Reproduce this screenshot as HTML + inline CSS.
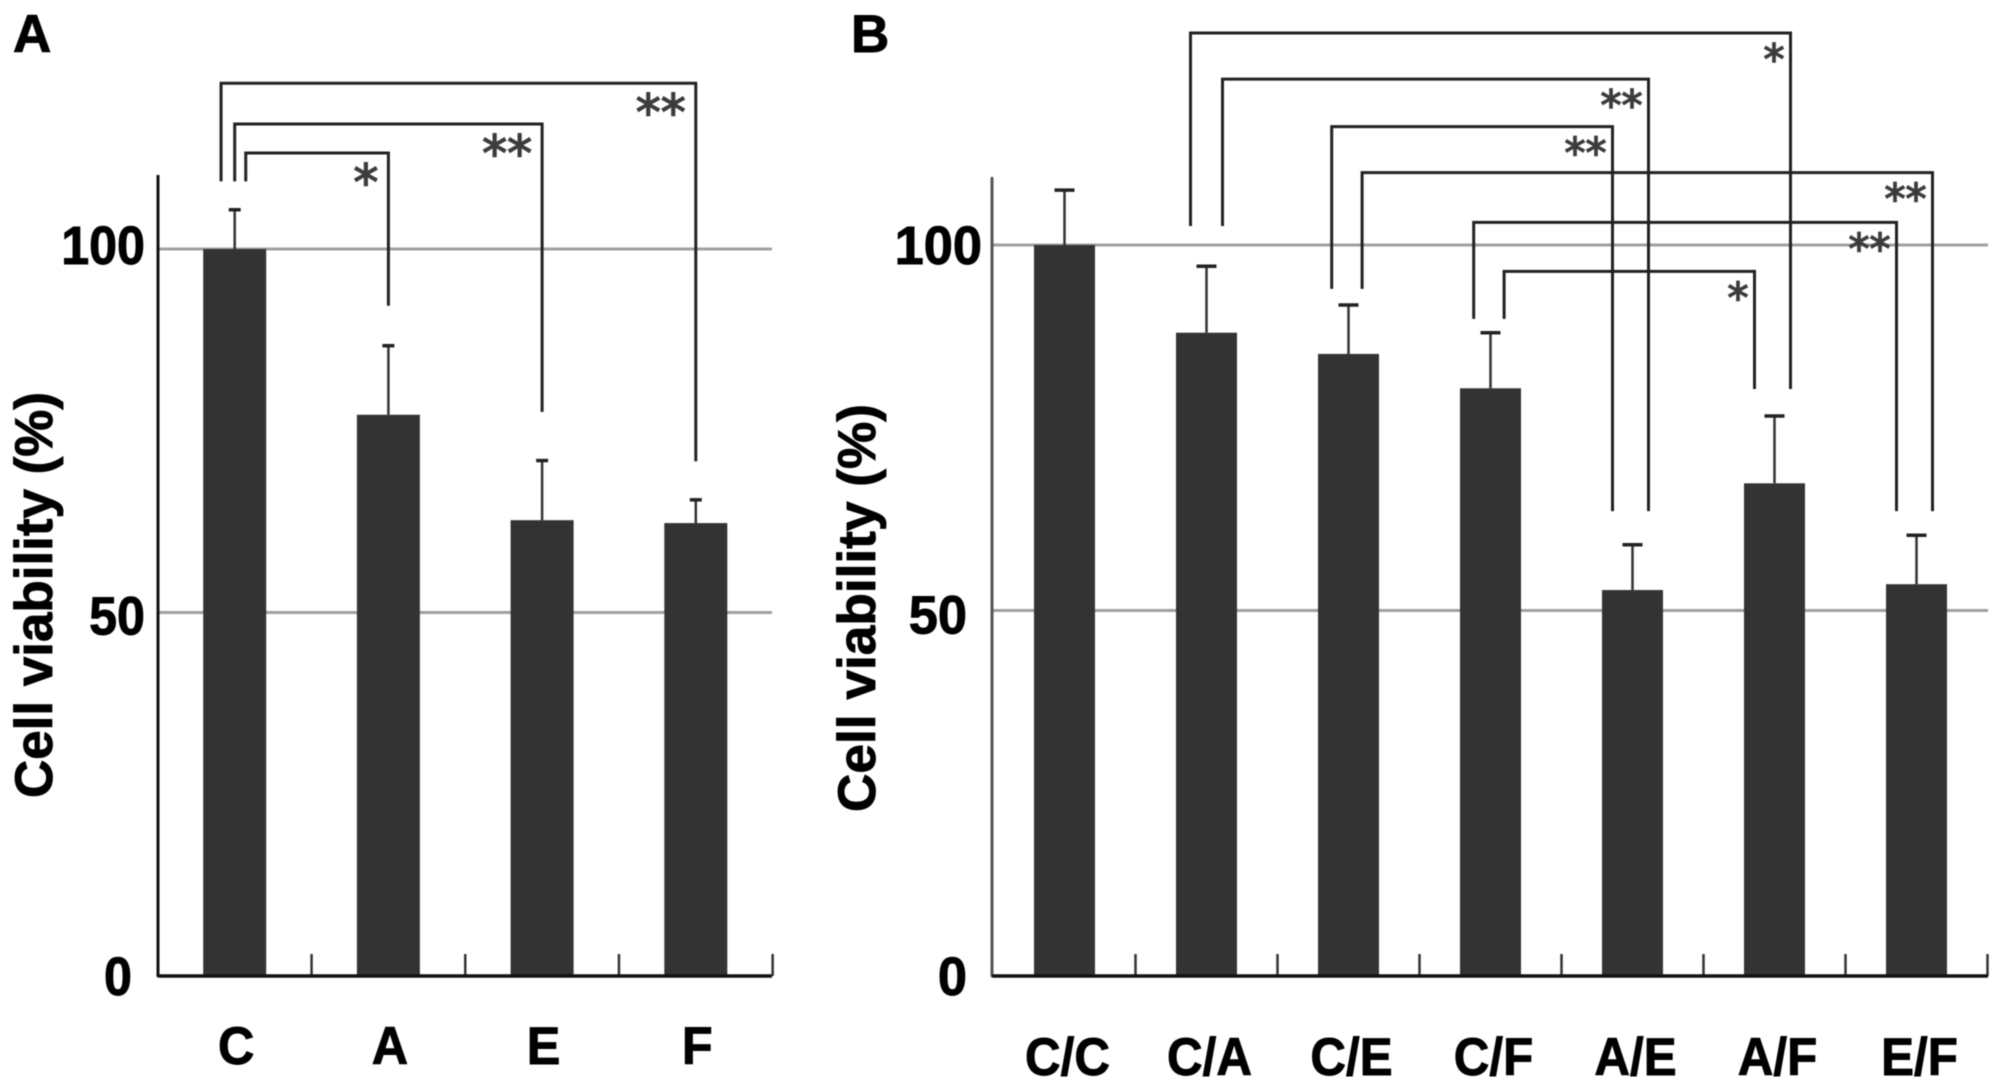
<!DOCTYPE html>
<html lang="en">
<head>
<meta charset="utf-8">
<title>Cell viability bar charts</title>
<style>
  html, body { margin: 0; padding: 0; background: #fff; }
  svg { display: block; filter: blur(0.5px); }
  text { font-family: "Liberation Sans", Arial, sans-serif; font-weight: 700; fill: #000; stroke: #000; stroke-width: 0.9px; }
  .star { font-family: "DejaVu Sans", sans-serif; font-weight: 400; fill: #3c3c3c; stroke: #3c3c3c; stroke-width: 1.4px; }
</style>
</head>
<body>
<svg id="figure" xmlns="http://www.w3.org/2000/svg" width="2008" height="1088" viewBox="0 0 2008 1088">
  <text x="13" y="52" font-size="53">A</text>
  <text x="851" y="52" font-size="53">B</text>
  <text transform="translate(52 798) rotate(-90)" font-size="53" textLength="406" lengthAdjust="spacingAndGlyphs">Cell viability (%)</text>
  <text transform="translate(875 812) rotate(-90)" font-size="53" textLength="408" lengthAdjust="spacingAndGlyphs">Cell viability (%)</text>
</svg>
<script>
const tickValues = [0, 50, 100];
const gridValues = [50, 100];

const categoriesA = ['C', 'A', 'E', 'F'];
const valuesA = [100, 77.2, 62.7, 62.3];
const errorsA = [5.4, 9.5, 8.2, 3.2];
const bracketFromA = [0, 0, 0];
const bracketToA = [3, 2, 1];
const bracketLevelsA = [122.8, 117.2, 113.2];
const bracketLeftEndsA = [109.3, 109.3, 109.3];
const bracketRightEndsA = [70.8, 77.6, 92.2];
const bracketLabelsA = ['**', '**', '*'];

const categoriesB = ['C/C', 'C/A', 'C/E', 'C/F', 'A/E', 'A/F', 'E/F'];
const valuesB = [100, 88, 85.1, 80.4, 52.8, 67.4, 53.6];
const errorsB = [7.5, 9.1, 6.7, 7.6, 6.2, 9.2, 6.7];
const bracketFromB = [1, 1, 2, 2, 3, 3];
const bracketToB = [5, 4, 4, 6, 6, 5];
const bracketLevelsB = [129.0, 122.7, 116.2, 109.9, 103.1, 96.4];
const bracketLeftEndsB = [102.6, 102.6, 94, 94, 89.9, 89.9];
const bracketRightEndsB = [80.3, 63.6, 63.6, 63.6, 63.6, 80.3];
const bracketLabelsB = ['*', '**', '**', '**', '**', '*'];

const NS = 'http://www.w3.org/2000/svg';
const figure = document.getElementById('figure');

function make(tag, attrs, parent) {
  const node = document.createElementNS(NS, tag);
  Object.keys(attrs).forEach(function (k) { node.setAttribute(k, attrs[k]); });
  parent.appendChild(node);
  return node;
}

function drawPanel(p) {
  const xScale = function (i) { return p.x0 + i * p.step; };
  const yScale = function (v) { return p.y0 - v * p.unit; };
  const g = make('g', {}, figure);
  
  

  gridValues.forEach(function (v) {
    const line = make('line', { x1: p.axisX, x2: p.right, y1: yScale(v), y2: yScale(v), stroke: '#a0a0a0', 'stroke-width': 3 }, g);
    
    
  });

  p.categories.forEach(function (cat, i) {
    const cx = xScale(i);
    const errTop = yScale(p.values[i] + p.errors[i]);

    const stem = make('line', { x1: cx, x2: cx, y1: yScale(p.values[i]), y2: errTop, stroke: '#333', 'stroke-width': 2.5 }, g);
    
    

    const cap = make('line', { x1: cx - p.capHalf, x2: cx + p.capHalf, y1: errTop, y2: errTop, stroke: '#222', 'stroke-width': 3.5 }, g);
    
    

    const bar = make('rect', { x: cx - p.barWidth / 2, y: yScale(p.values[i]), width: p.barWidth, height: p.y0 - yScale(p.values[i]), fill: '#333' }, g);
    
    

    const tickX = cx + p.step / 2;
    const tick = make('line', { x1: tickX, x2: tickX, y1: p.y0 - 22, y2: p.y0, stroke: '#333', 'stroke-width': 2.5 }, g);
    
    

    const label = make('text', { x: cx + p.labelShift, y: p.labelBaseline, 'font-size': 53, 'text-anchor': 'middle' }, g);
    label.textContent = cat;
    
    
    label.setAttribute('textLength', label.getComputedTextLength() * p.labelSqueeze);
    label.setAttribute('lengthAdjust', 'spacingAndGlyphs');
  });

  const yAxis = make('line', { x1: p.axisX, x2: p.axisX, y1: p.axisTop, y2: p.y0 + 1, stroke: p.yAxisColor, 'stroke-width': 3 }, g);
  
  

  const xAxis = make('line', { x1: p.axisX, x2: p.right, y1: p.y0, y2: p.y0, stroke: '#111', 'stroke-width': 3.5 }, g);
  
  

  tickValues.forEach(function (v) {
    const t = make('text', { x: p.tickRight + p.tickNudgeX(v), y: yScale(v) + p.tickNudgeY(v), 'font-size': 54, 'text-anchor': 'end' }, g);
    t.textContent = String(v);
    
    
    t.setAttribute('textLength', t.getComputedTextLength() * p.tickSqueeze);
    t.setAttribute('lengthAdjust', 'spacingAndGlyphs');
  });

  p.bracketLevels.forEach(function (level, b) {
    const lx = xScale(p.bracketFrom[b]) + p.leftSlot(b) * p.slotGap;
    const rx = xScale(p.bracketTo[b]) + p.rightSlot(b) * p.slotGap;
    const yTop = yScale(level);
    const path = make('path', {
      d: 'M' + lx + ' ' + yScale(p.bracketLeftEnds[b]) + 'V' + yTop + 'H' + rx + 'V' + yScale(p.bracketRightEnds[b]),
      fill: 'none', stroke: '#222', 'stroke-width': p.bracketWidth
    }, g);
    
    

    const star = make('text', { x: rx - p.starGap, y: yTop + p.starDrop, 'font-size': p.starSize, 'text-anchor': 'end', 'class': 'star' }, g);
    star.textContent = p.bracketLabels[b];
    
    
  });
}

drawPanel({
  id: 'a', categories: categoriesA, values: valuesA, errors: errorsA,
  bracketFrom: bracketFromA, bracketTo: bracketToA, bracketLevels: bracketLevelsA,
  bracketLeftEnds: bracketLeftEndsA, bracketRightEnds: bracketRightEndsA, bracketLabels: bracketLabelsA,
  x0: 234.7, step: 153.7, barWidth: 63, capHalf: 6, y0: 976, unit: 7.27,
  axisX: 158, axisTop: 175, right: 772, yAxisColor: '#111',
  tickRight: 145, tickSqueeze: 0.93,
  tickNudgeX: function (v) { return v === 0 ? -13 : 0; },
  tickNudgeY: function (v) { return v === 100 ? 15 : (v === 50 ? 22 : 19); },
  labelShift: 1.5, labelBaseline: 1064, labelSqueeze: 0.95,
  leftSlot: function (b) { return [-1.05, 0, 0.85][b]; },
  rightSlot: function () { return 0; },
  slotGap: 13, bracketWidth: 3, starGap: 10, starDrop: 47, starSize: 50
});

drawPanel({
  id: 'b', categories: categoriesB, values: valuesB, errors: errorsB,
  bracketFrom: bracketFromB, bracketTo: bracketToB, bracketLevels: bracketLevelsB,
  bracketLeftEnds: bracketLeftEndsB, bracketRightEnds: bracketRightEndsB, bracketLabels: bracketLabelsB,
  x0: 1064.5, step: 142, barWidth: 61, capHalf: 10, y0: 976, unit: 7.31,
  axisX: 992, axisTop: 177, right: 1988, yAxisColor: '#555',
  tickRight: 982, tickSqueeze: 0.97,
  tickNudgeX: function (v) { return v === 100 ? 0 : -15; },
  tickNudgeY: function (v) { return v === 50 ? 23 : 19; },
  labelShift: 3, labelBaseline: 1075, labelSqueeze: 0.93,
  leftSlot: function (b) { return [-1, 1, -1.05, 0.85, -1.05, 0.85][b]; },
  rightSlot: function (b) { return [1, 1, -1.25, 1, -1.25, -1.25][b]; },
  slotGap: 16, bracketWidth: 3, starGap: 6, starDrop: 41, starSize: 42
});
</script>
</body>
</html>
